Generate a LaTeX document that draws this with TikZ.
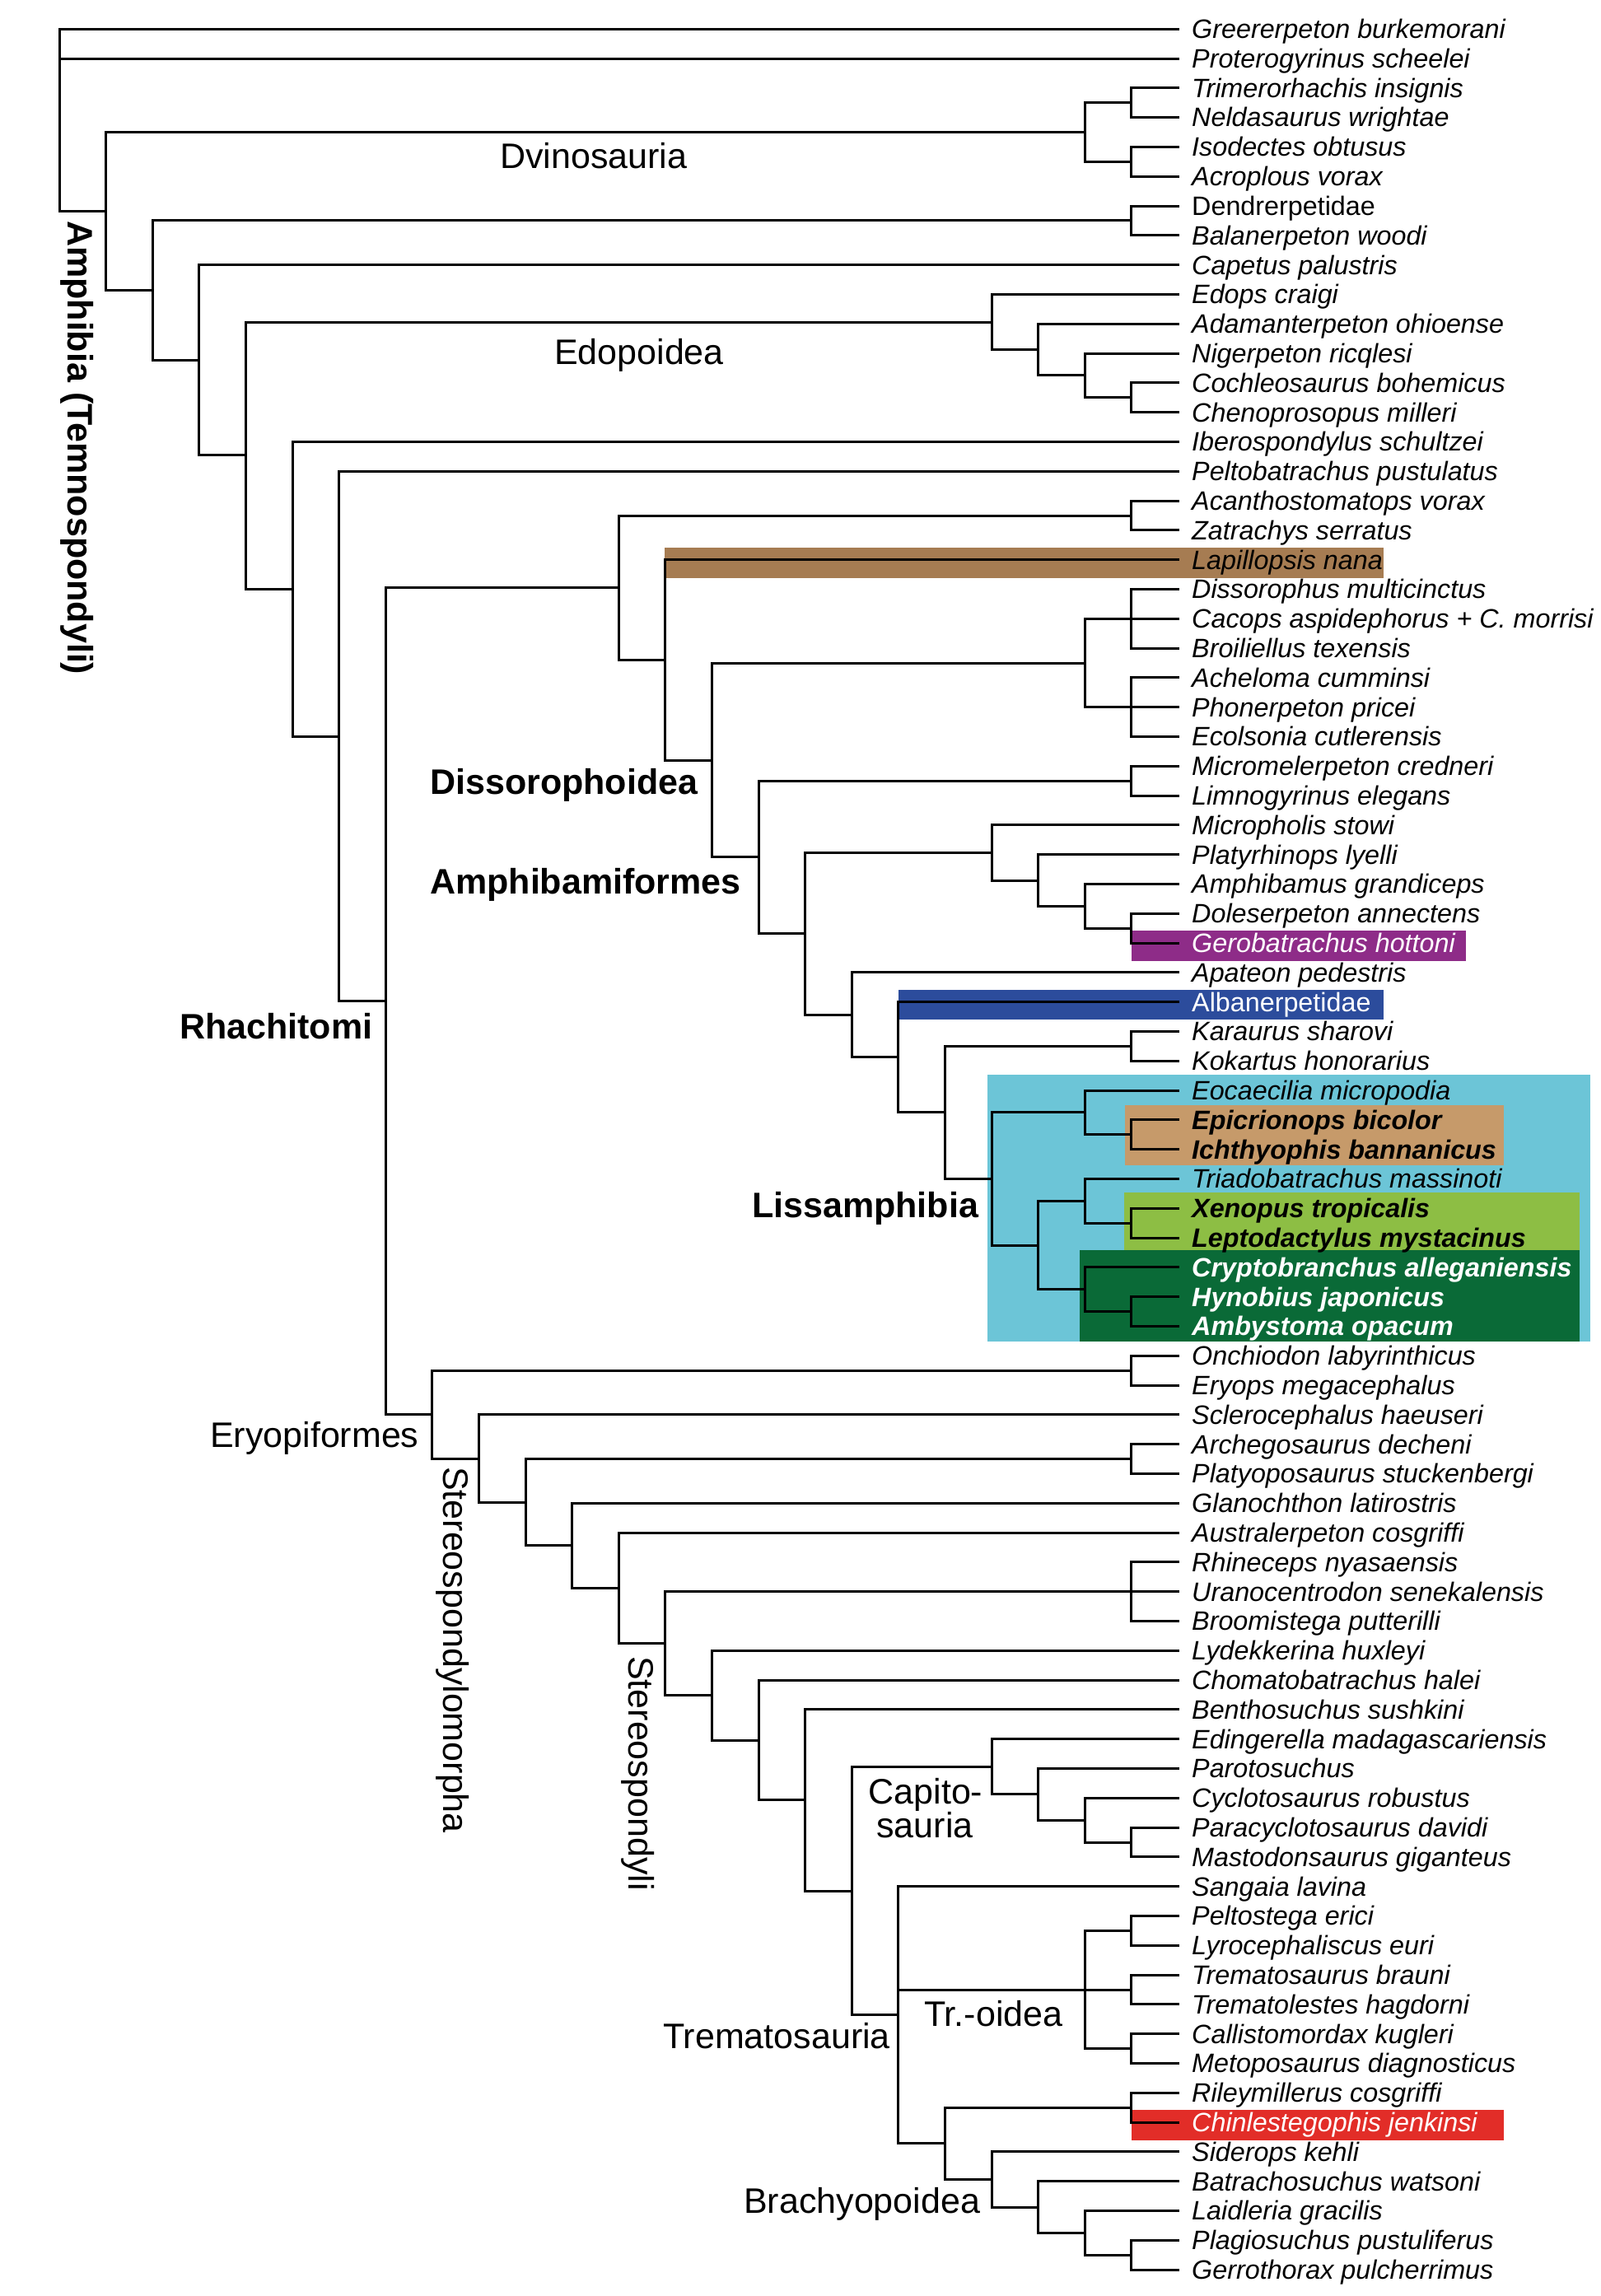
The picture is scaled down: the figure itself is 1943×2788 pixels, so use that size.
\documentclass[tikz,border=0pt]{standalone}
\usepackage{fontspec}
\setmainfont{Liberation Sans}
\definecolor{cLap}{HTML}{A67C52}
\definecolor{cGero}{HTML}{8E2C88}
\definecolor{cAlb}{HTML}{2C4C9C}
\definecolor{cLiss}{HTML}{6CC5D7}
\definecolor{cGym}{HTML}{C69A6A}
\definecolor{cSal}{HTML}{8DBE44}
\definecolor{cCau}{HTML}{0A6A37}
\definecolor{cChin}{HTML}{E22D28}
\newcommand{\taxfs}{\fontsize{32.3}{36}\selectfont}
\newcommand{\clfs}{\fontsize{43}{46}\selectfont}
\newcommand{\leaf}[3][tx]{\coordinate (e#2) at (24,#2); \node[#1] (t#2) at (e#2) {#3};}
\newcommand{\kids}[2]{\foreach \c in {#2}{\draw[br] (#1) |- (\c);}}
\begin{document}
\begin{tikzpicture}[x=1pt,y=-1pt,
  br/.style={line width=3pt, line cap=rect, line join=miter},
  tx/.style={anchor=base west, inner sep=0pt, xshift=16.6pt, yshift=-11.3pt, font=\taxfs\itshape},
  txr/.style={tx, font=\taxfs},
  txb/.style={tx, font=\taxfs\bfseries\itshape},
  txw/.style={tx, text=white},
  txrw/.style={txr, text=white},
  txbw/.style={txb, text=white},
  cl/.style={anchor=base west, inner sep=0pt, font=\clfs},
  clb/.style={cl, font=\clfs\bfseries}]
\useasboundingbox (0,0) rectangle (1943,2788);
\fill[white] (0,0) rectangle (1943,2788);
% highlight boxes
\fill[cLiss] (1199,1305) rectangle (1931,1629);
\fill[cGym] (1366,1342) rectangle (1826,1415);
\fill[cSal] (1365,1448) rectangle (1918,1518);
\fill[cCau] (1311,1518) rectangle (1918,1629);
\fill[cLap] (807,665) rectangle (1680,702);
\fill[cGero] (1374,1130) rectangle (1780,1167);
\fill[cAlb] (1091,1202) rectangle (1680,1238);
\fill[cChin] (1374,2562) rectangle (1826,2599);

\begin{scope}[shift={(72,-0.5)}, x=56.6pt, y=-35.8pt]
% leaves
\leaf{1}{Greererpeton burkemorani}
\leaf{2}{Proterogyrinus scheelei}
\leaf{3}{Trimerorhachis insignis}
\leaf{4}{Neldasaurus wrightae}
\leaf{5}{Isodectes obtusus}
\leaf{6}{Acroplous vorax}
\leaf[txr]{7}{Dendrerpetidae}
\leaf{8}{Balanerpeton woodi}
\leaf{9}{Capetus palustris}
\leaf{10}{Edops craigi}
\leaf{11}{Adamanterpeton ohioense}
\leaf{12}{Nigerpeton ricqlesi}
\leaf{13}{Cochleosaurus bohemicus}
\leaf{14}{Chenoprosopus milleri}
\leaf{15}{Iberospondylus schultzei}
\leaf{16}{Peltobatrachus pustulatus}
\leaf{17}{Acanthostomatops vorax}
\leaf{18}{Zatrachys serratus}
\leaf{19}{Lapillopsis nana}
\leaf{20}{Dissorophus multicinctus}
\leaf{21}{Cacops aspidephorus + C. morrisi}
\leaf{22}{Broiliellus texensis}
\leaf{23}{Acheloma cumminsi}
\leaf{24}{Phonerpeton pricei}
\leaf{25}{Ecolsonia cutlerensis}
\leaf{26}{Micromelerpeton credneri}
\leaf{27}{Limnogyrinus elegans}
\leaf{28}{Micropholis stowi}
\leaf{29}{Platyrhinops lyelli}
\leaf{30}{Amphibamus grandiceps}
\leaf{31}{Doleserpeton annectens}
\leaf[txw]{32}{Gerobatrachus hottoni}
\leaf{33}{Apateon pedestris}
\leaf[txrw]{34}{Albanerpetidae}
\leaf{35}{Karaurus sharovi}
\leaf{36}{Kokartus honorarius}
\leaf{37}{Eocaecilia micropodia}
\leaf[txb]{38}{Epicrionops bicolor}
\leaf[txb]{39}{Ichthyophis bannanicus}
\leaf{40}{Triadobatrachus massinoti}
\leaf[txb]{41}{Xenopus tropicalis}
\leaf[txb]{42}{Leptodactylus mystacinus}
\leaf[txbw]{43}{Cryptobranchus alleganiensis}
\leaf[txbw]{44}{Hynobius japonicus}
\leaf[txbw]{45}{Ambystoma opacum}
\leaf{46}{Onchiodon labyrinthicus}
\leaf{47}{Eryops megacephalus}
\leaf{48}{Sclerocephalus haeuseri}
\leaf{49}{Archegosaurus decheni}
\leaf{50}{Platyoposaurus stuckenbergi}
\leaf{51}{Glanochthon latirostris}
\leaf{52}{Australerpeton cosgriffi}
\leaf{53}{Rhineceps nyasaensis}
\leaf{54}{Uranocentrodon senekalensis}
\leaf{55}{Broomistega putterilli}
\leaf{56}{Lydekkerina huxleyi}
\leaf{57}{Chomatobatrachus halei}
\leaf{58}{Benthosuchus sushkini}
\leaf{59}{Edingerella madagascariensis}
\leaf{60}{Parotosuchus}
\leaf{61}{Cyclotosaurus robustus}
\leaf{62}{Paracyclotosaurus davidi}
\leaf{63}{Mastodonsaurus giganteus}
\leaf{64}{Sangaia lavina}
\leaf{65}{Peltostega erici}
\leaf{66}{Lyrocephaliscus euri}
\leaf{67}{Trematosaurus brauni}
\leaf{68}{Trematolestes hagdorni}
\leaf{69}{Callistomordax kugleri}
\leaf{70}{Metoposaurus diagnosticus}
\leaf{71}{Rileymillerus cosgriffi}
\leaf[txw]{72}{Chinlestegophis jenkinsi}
\leaf{73}{Siderops kehli}
\leaf{74}{Batrachosuchus watsoni}
\leaf{75}{Laidleria gracilis}
\leaf{76}{Plagiosuchus pustuliferus}
\leaf{77}{Gerrothorax pulcherrimus}
% internal nodes
\coordinate (root) at (0,1);
\coordinate (n1) at (1,7.18);
\coordinate (dv) at (22,4.5);
\coordinate (dvA) at (23,3.5);
\coordinate (dvB) at (23,5.5);
\coordinate (n2) at (2,9.87);
\coordinate (den) at (23,7.5);
\coordinate (n3) at (3,12.23);
\coordinate (n4) at (4,15.46);
\coordinate (ed) at (20,10.9375);
\coordinate (edB) at (21,11.875);
\coordinate (edC) at (22,12.75);
\coordinate (edD) at (23,13.5);
\coordinate (n5) at (5,19.99);
\coordinate (n6) at (6,24.99);
\coordinate (n7) at (7,33.97);
% Dissorophoidea
\coordinate (d12) at (12,19.95);
\coordinate (zat) at (23,17.5);
\coordinate (d13) at (13,22.4);
\coordinate (d14) at (14,25.8);
\coordinate (dt) at (22,22.5);
\coordinate (dis) at (23,21);
\coordinate (tre) at (23,24);
\coordinate (d15) at (15,29.09);
\coordinate (mic) at (23,26.5);
\coordinate (d16) at (16,31.6875);
\coordinate (am20) at (20,28.9375);
\coordinate (am21) at (21,29.875);
\coordinate (am22) at (22,30.75);
\coordinate (am23) at (23,31.5);
\coordinate (d17) at (17,34.4375);
\coordinate (d18) at (18,35.875);
\coordinate (d19) at (19,37.75);
\coordinate (kar) at (23,35.5);
\coordinate (li20) at (20,40);
\coordinate (gy22) at (22,37.75);
\coordinate (gy23) at (23,38.5);
\coordinate (ba21) at (21,42.25);
\coordinate (sa22) at (22,40.75);
\coordinate (sa23) at (23,41.5);
\coordinate (ca22) at (22,43.75);
\coordinate (ca23) at (23,44.5);
% Eryopiformes
\coordinate (y8) at (8,47.99);
\coordinate (ery) at (23,46.5);
\coordinate (y9) at (9,49.49);
\coordinate (y10) at (10,50.97);
\coordinate (arc) at (23,49.5);
\coordinate (y11) at (11,52.44);
\coordinate (y12) at (12,53.88);
\coordinate (y13) at (13,55.76);
\coordinate (rhi) at (23,54);
\coordinate (y14) at (14,57.52);
\coordinate (y15) at (15,59.04);
\coordinate (y16) at (16,61.07);
\coordinate (y17) at (17,64.15);
\coordinate (cp20) at (20,59.9375);
\coordinate (cp21) at (21,60.875);
\coordinate (cp22) at (22,61.75);
\coordinate (cp23) at (23,62.5);
\coordinate (tr18) at (18,68.36);
\coordinate (tro) at (22,67.5);
\coordinate (troA) at (23,65.5);
\coordinate (troB) at (23,67.5);
\coordinate (troC) at (23,69.5);
\coordinate (br19) at (19,72.72);
\coordinate (ril) at (23,71.5);
\coordinate (br20) at (20,73.9375);
\coordinate (br21) at (21,74.875);
\coordinate (br22) at (22,75.75);
\coordinate (br23) at (23,76.5);
% branches
\kids{root}{e1,e2,n1}
\kids{n1}{dv,n2}
\kids{dv}{dvA,dvB}
\kids{dvA}{e3,e4}
\kids{dvB}{e5,e6}
\kids{n2}{den,n3}
\kids{den}{e7,e8}
\kids{n3}{e9,n4}
\kids{n4}{ed,n5}
\kids{ed}{e10,edB}
\kids{edB}{e11,edC}
\kids{edC}{e12,edD}
\kids{edD}{e13,e14}
\kids{n5}{e15,n6}
\kids{n6}{e16,n7}
\kids{n7}{d12,y8}
\kids{d12}{zat,d13}
\kids{zat}{e17,e18}
\kids{d13}{e19,d14}
\kids{d14}{dt,d15}
\kids{dt}{dis,tre}
\kids{dis}{e20,e21,e22}
\kids{tre}{e23,e24,e25}
\kids{d15}{mic,d16}
\kids{mic}{e26,e27}
\kids{d16}{am20,d17}
\kids{am20}{e28,am21}
\kids{am21}{e29,am22}
\kids{am22}{e30,am23}
\kids{am23}{e31,e32}
\kids{d17}{e33,d18}
\kids{d18}{e34,d19}
\kids{d19}{kar,li20}
\kids{kar}{e35,e36}
\kids{li20}{gy22,ba21}
\kids{gy22}{e37,gy23}
\kids{gy23}{e38,e39}
\kids{ba21}{sa22,ca22}
\kids{sa22}{e40,sa23}
\kids{sa23}{e41,e42}
\kids{ca22}{e43,ca23}
\kids{ca23}{e44,e45}
\kids{y8}{ery,y9}
\kids{ery}{e46,e47}
\kids{y9}{e48,y10}
\kids{y10}{arc,y11}
\kids{arc}{e49,e50}
\kids{y11}{e51,y12}
\kids{y12}{e52,y13}
\kids{y13}{rhi,y14}
\kids{rhi}{e53,e54,e55}
\kids{y14}{e56,y15}
\kids{y15}{e57,y16}
\kids{y16}{e58,y17}
\kids{y17}{cp20,tr18}
\kids{cp20}{e59,cp21}
\kids{cp21}{e60,cp22}
\kids{cp22}{e61,cp23}
\kids{cp23}{e62,e63}
\kids{tr18}{e64,tro,br19}
\kids{tro}{troA,troB,troC}
\kids{troA}{e65,e66}
\kids{troB}{e67,e68}
\kids{troC}{e69,e70}
\kids{br19}{ril,br20}
\kids{ril}{e71,e72}
\kids{br20}{e73,br21}
\kids{br21}{e74,br22}
\kids{br22}{e75,br23}
\kids{br23}{e76,e77}
\end{scope}

% clade labels
\node[clb, rotate=-90] (lAmph) at (82,268) {Amphibia (Temnospondyli)};
\node[cl] (lDvi) at (607,205) {Dvinosauria};
\node[cl] (lEdo) at (673,442) {Edopoidea};
\node[clb] (lDis) at (522,964) {Dissorophoidea};
\node[clb] (lAmf) at (522,1085) {Amphibamiformes};
\node[clb] (lRha) at (218,1261) {Rhachitomi};
\node[clb] (lLis) at (913,1478) {Lissamphibia};
\node[cl] (lEry) at (255,1757) {Eryopiformes};
\node[cl, rotate=-90] (lStm) at (538,1781) {Stereospondylomorpha};
\node[cl, rotate=-90] (lSte) at (763,2011) {Stereospondyli};
\node[cl, anchor=base] (lCap1) at (1124,2190) {Capito-};
\node[cl, anchor=base] (lCap2) at (1123,2231) {sauria};
\node[cl] (lTro) at (1122,2460) {Tr.-oidea};
\node[cl] (lTrs) at (805,2487) {Trematosauria};
\node[cl] (lBra) at (903,2687) {Brachyopoidea};
\end{tikzpicture}
\end{document}
